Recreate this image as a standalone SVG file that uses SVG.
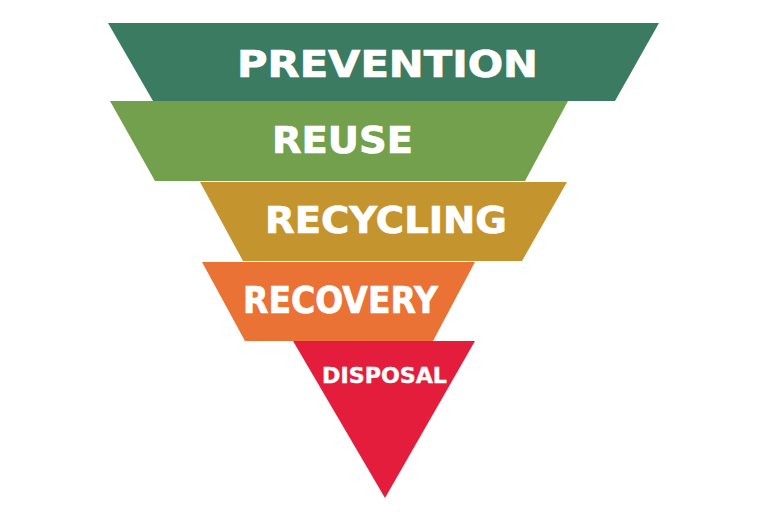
<svg xmlns="http://www.w3.org/2000/svg" width="768" height="512" viewBox="0 0 768 512">
  <style>
    .lbl { font-family: "DejaVu Sans", "Liberation Sans", sans-serif; font-weight: bold; fill: #ffffff; stroke: #ffffff; stroke-width: 0.7px; }
    .big { font-size: 37px; }
    .small { font-size: 21px; stroke-width: 0.4px; }
  </style>
  <rect width="768" height="512" fill="#ffffff"/>
  <g id="prevention">
    <polygon points="108,23 659,23 615,101 153,101" fill="#3a7b62"/>
    <text class="lbl big" x="237" y="77" textLength="301" lengthAdjust="spacingAndGlyphs">PREVENTION</text>
  </g>
  <g id="reuse">
    <polygon points="110,101 568,101 525,181 155,181" fill="#72a04d"/>
    <text class="lbl big" x="272" y="153" textLength="141" lengthAdjust="spacingAndGlyphs">REUSE</text>
  </g>
  <g id="recycling">
    <polygon points="200,182 567,182 522,261 243,261" fill="#c4952f"/>
    <text class="lbl big" x="265" y="233" textLength="242" lengthAdjust="spacingAndGlyphs">RECYCLING</text>
  </g>
  <g id="recovery">
    <polygon points="202,262 475,262 433,341 245,341" fill="#e97234"/>
    <text class="lbl big" x="243" y="313" textLength="195" lengthAdjust="spacingAndGlyphs">RECOVERY</text>
  </g>
  <g id="disposal">
    <polygon points="293,341 475,341 385,498" fill="#e31d3b"/>
    <text class="lbl small" x="322" y="383" textLength="125" lengthAdjust="spacingAndGlyphs">DISPOSAL</text>
  </g>
  <g id="connectors"/>
</svg>
